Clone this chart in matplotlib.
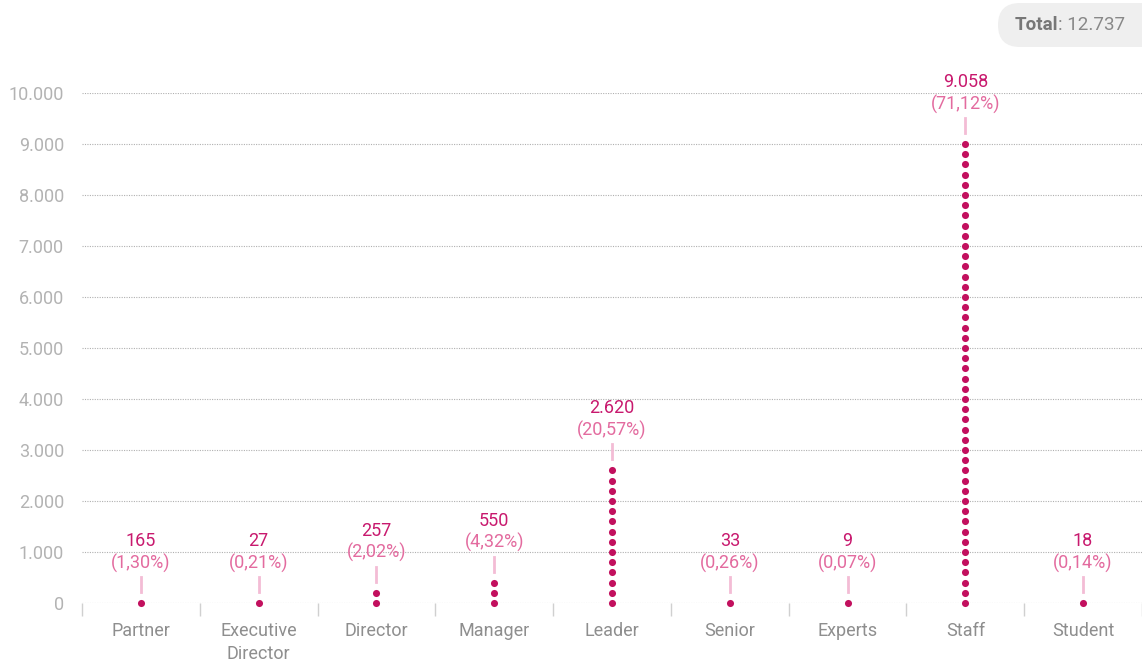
import numpy as np
import matplotlib.pyplot as plt
from matplotlib.patches import FancyBboxPatch
from matplotlib.lines import Line2D
from matplotlib.transforms import offset_copy, IdentityTransform
from matplotlib.ticker import FuncFormatter

# headcount per level, one dot for every 200 people
categories = ['Partner', 'Executive\nDirector', 'Director', 'Manager', 'Leader',
              'Senior', 'Experts', 'Staff', 'Student']
values = [165, 27, 257, 550, 2620, 33, 9, 9058, 18]
total = 12737
step = 200
yticks = [0, 1000, 2000, 3000, 4000, 5000, 6000, 7000, 8000, 9000, 10000]

dot_c = '#c2105e'
val_c = '#c8196e'
pct_c = '#e36b9f'
line_c = '#f3bcd5'

plt.rcParams['font.family'] = ['Roboto', 'DejaVu Sans']

fig = plt.figure(figsize=(11.42, 6.64), dpi=100)
ax = fig.add_axes([82/1142, 61/664, 1060/1142, 510/664])
ax.set_xlim(-0.5, len(categories) - 0.5)
ax.set_ylim(0, 10000)

def fmt(v):
    return f'{int(v):,}'.replace(',', '.')

for i, v in enumerate(values):
    ks = np.arange(0, v // step + 1) * step
    ax.scatter(np.full(len(ks), i), ks, s=26, color=dot_c, zorder=3,
               clip_on=False, linewidths=0)
    top = ks[-1]
    # short connector between the dots and the labels
    p0 = ax.transData.transform((i, top))
    fig.add_artist(Line2D([p0[0], p0[0]], [p0[1] + 11, p0[1] + 26],
                          transform=IdentityTransform(), color=line_c, lw=2))
    pct = v / total * 100
    ax.text(i, top, f'({pct:.2f}%)'.replace('.', ','), ha='center', va='center',
            color=pct_c, fontsize=13, clip_on=False,
            transform=offset_copy(ax.transData, fig=fig, x=0, y=40, units='dots'))
    ax.text(i, top, fmt(v), ha='center', va='center',
            color=val_c, fontsize=13, clip_on=False,
            transform=offset_copy(ax.transData, fig=fig, x=0, y=62, units='dots'))

ax.set_yticks(yticks)
ax.yaxis.set_major_formatter(FuncFormatter(lambda v, p: fmt(v)))
ax.set_xticks(range(len(categories)))
ax.set_xticklabels(categories, color='#8e8e8e', fontsize=13, linespacing=1.32)
ax.set_xticks(np.arange(-0.5, len(categories) - 0.4, 1), minor=True)
ax.tick_params(axis='x', which='major', length=0, pad=14)
ax.tick_params(axis='x', which='minor', length=9, color='#d0d0d0', width=1, pad=5)
ax.tick_params(axis='y', length=0, pad=13, labelcolor='#b3b3b3', labelsize=13)
ax.grid(axis='y', linestyle=(0, (1, 1.2)), color='#b0b0b0', linewidth=0.8)
ax.set_axisbelow(True)
for s in ax.spines.values():
    s.set_visible(False)

# total badge, top right
badge = FancyBboxPatch((998, 664 - 47), 170, 44, boxstyle='round,pad=0,rounding_size=22',
                       transform=IdentityTransform(), facecolor='#efefef',
                       edgecolor='none', zorder=-1)
fig.add_artist(badge)
t1 = fig.text(1015/1142, 1 - 25/664, 'Total', fontsize=13.5, fontweight='bold',
              color='#777777', va='center', ha='left')
fig.add_artist(plt.Annotation(': ' + fmt(total), xy=(1, 0.5), xycoords=t1,
                              va='center', ha='left', fontsize=13.5, color='#888888',
                              annotation_clip=False))

fig.savefig('out.png', dpi=100)
